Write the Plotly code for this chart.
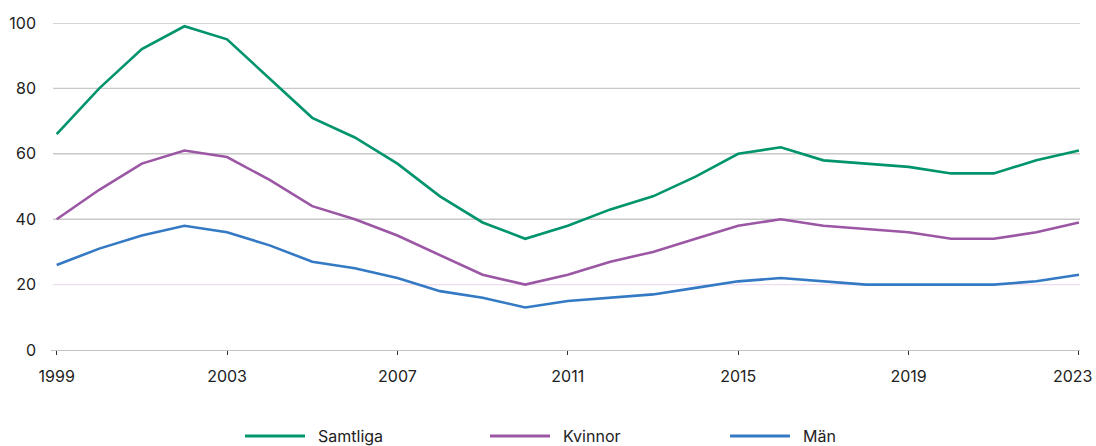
import plotly.graph_objects as go

years = list(range(1999, 2024))
samtliga = [66, 80, 92, 99, 95, 83, 71, 65, 57, 47, 39, 34, 38, 43, 47, 53, 60, 62, 58, 57, 56, 54, 54, 58, 61]
kvinnor = [40, 49, 57, 61, 59, 52, 44, 40, 35, 29, 23, 20, 23, 27, 30, 34, 38, 40, 38, 37, 36, 34, 34, 36, 39]
man = [26, 31, 35, 38, 36, 32, 27, 25, 22, 18, 16, 13, 15, 16, 17, 19, 21, 22, 21, 20, 20, 20, 20, 21, 23]

series_names = ["Samtliga", "Kvinnor", "Män"]
series_colors = ["#00946c", "#9b56a4", "#3479c3"]
x_ticks = [1999, 2003, 2007, 2011, 2015, 2019, 2023]
y_ticks = [0, 20, 40, 60, 80, 100]
highlight_y = 20

W, H = 1096, 446
L, R, T, B = 51, 16, 23.4, 96
FONT = "Inter, Roboto, sans-serif"

fig = go.Figure()

# gridlines as shapes (the 20-line is light purple in the reference)
for yv in y_ticks[1:]:
    col = "#efdcef" if yv == highlight_y else "#c8c8c8"
    fig.add_shape(type="line", xref="paper", yref="y", x0=0.002, x1=1, y0=yv, y1=yv,
                  line=dict(color=col, width=1.4), layer="below")

for name, vals, col in zip(series_names, [samtliga, kvinnor, man], series_colors):
    fig.add_trace(go.Scatter(x=years, y=vals, mode="lines", name=name,
                             line=dict(color=col, width=2.6), showlegend=False,
                             cliponaxis=False))

# custom legend
pw = W - L - R
ph = H - T - B
def px_x(p):
    return (p - L) / pw
def px_y(p):
    return (H - B - p) / ph

leg_y = 436
leg_x = [245, 490, 730]
for name, col, lx in zip(series_names, series_colors, leg_x):
    fig.add_shape(type="line", xref="paper", yref="paper",
                  x0=px_x(lx), x1=px_x(lx + 60), y0=px_y(leg_y), y1=px_y(leg_y),
                  line=dict(color=col, width=3))
    fig.add_annotation(xref="paper", yref="paper", x=px_x(lx + 71), y=px_y(leg_y),
                       text=name, showarrow=False, xanchor="left", yanchor="middle",
                       font=dict(family=FONT, size=16, color="#222222"))

# last x tick label drawn as annotation so it stays inside the page
tick_text = [str(v) for v in x_ticks]
fig.add_annotation(xref="x", yref="paper", x=x_ticks[-1], y=px_y(376), text=tick_text[-1],
                   showarrow=False, xanchor="right", yanchor="middle", xshift=16,
                   font=dict(family=FONT, size=16, color="#222222"))
tick_text[-1] = ""

fig.update_layout(
    width=W, height=H,
    margin=dict(l=L, r=R, t=T, b=B, autoexpand=False),
    paper_bgcolor="white", plot_bgcolor="white",
    font=dict(family=FONT, size=16, color="#222222"),
    showlegend=False,
    xaxis=dict(range=[1998.867, 2023.025], tickvals=x_ticks, ticktext=tick_text,
               showgrid=False, zeroline=False, showline=True, linecolor="#c4c4c4", linewidth=1.2,
               ticks="outside", ticklen=4, tickcolor="#333333", tickwidth=1,
               ticklabelstandoff=8, ticklabeloverflow="allow"),
    yaxis=dict(range=[0, 100], tickvals=y_ticks, showgrid=False,
               zeroline=False, showline=False, ticks="", ticklabelstandoff=14),
)

fig.write_html("out.html")
